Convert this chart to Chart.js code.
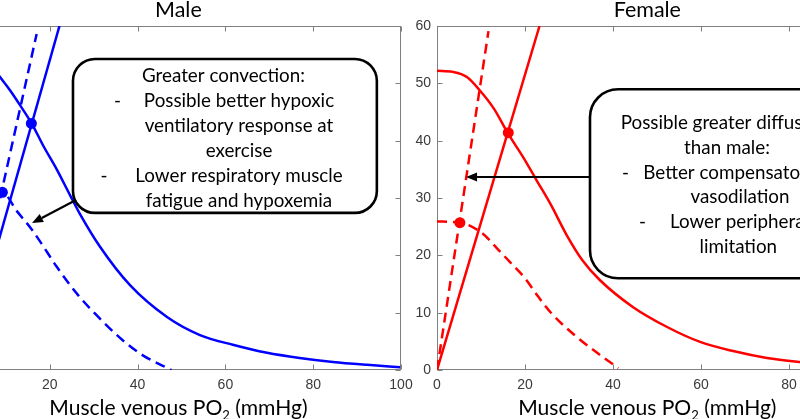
<!DOCTYPE html>
<html>
<head>
<meta charset="utf-8">
<script src="https://cdn.jsdelivr.net/npm/chart.js@4.4.0/dist/chart.umd.min.js"></script>
<style>
  html, body { margin: 0; padding: 0; background: #fff; }
  #wrap { position: relative; width: 800px; height: 419px; overflow: hidden; background: #fff; }
  #wrap canvas { position: absolute; top: 0; }
  #male { left: -100px; }
  #female { left: 377px; }
</style>
</head>
<body>
<div id="wrap">
  <canvas id="male" width="520" height="419"></canvas>
  <canvas id="female" width="520" height="419"></canvas>
</div>
<script>
// axes
const xTicks = [0, 20, 40, 60, 80, 100];
const yTicks = [0, 10, 20, 30, 40, 50, 60];

// male (blue)
const maleConvX = [7.5, 8.66, 10.93, 13.21, 15.95, 18.45, 21.64, 24.6, 26.88, 31.44, 38.27, 46.7, 54.2, 61.7, 69.5, 76.9, 84.5, 92.3, 99.8];
const maleConvY = [52.3, 51.1, 48.8, 46.2, 42.9, 39.2, 34.9, 30.5, 27.2, 21.5, 14.8, 9.25, 6.1, 4.4, 3.0, 2.1, 1.4, 0.9, 0.5];
const maleDiffX = [0, 22.2];
const maleDiffY = [0, 60];
const maleDiffDashX = [0, 17];
const maleDiffDashY = [0, 58.6];
const maleConvDashX = [0, 9.2, 12.4, 15.8, 18.5, 21.5, 26.4, 30.6, 36.6, 41.1, 47.7];
const maleConvDashY = [31, 31, 27.8, 24.6, 21.6, 18.1, 13.1, 9.6, 5.2, 2.6, 0];
const maleDotsX = [15.8, 9.2];
const maleDotsY = [43, 31];

// female (red)
const femConvX = [0, 3.6, 6.8, 9.8, 13.0, 16.1, 19.5, 22.7, 25.9, 29.5, 33, 37.0, 44.5, 52.3, 59.8, 67.3, 75.0, 82.5, 90, 100];
const femConvY = [52.2, 52.0, 51.1, 48.7, 45.5, 41.3, 37.2, 33.0, 28.8, 23.5, 19.2, 15.7, 11.0, 7.5, 4.9, 3.3, 2.1, 1.4, 0.9, 0.6];
const femDiffX = [0, 23.3];
const femDiffY = [0, 60];
const femDiffDashX = [0, 11.7];
const femDiffDashY = [0, 59.1];
const femConvDashX = [0, 5.2, 10.2, 13.9, 17, 20, 23, 26, 31.7, 41.2];
const femConvDashY = [25.9, 25.7, 23.9, 21, 18.5, 16, 12.8, 9.9, 5.8, 0.3];
const femDotsX = [16.2, 5.2];
const femDotsY = [41.4, 25.7];

const maleNote = ['Greater convection:', 'Possible better hypoxic', 'ventilatory response at', 'exercise',
                  'Lower respiratory muscle', 'fatigue and hypoxemia'];
const femNote = ['Possible greater diffusion', 'than male:', 'Better compensatory', 'vasodilation',
                 'Lower peripheral', 'limitation'];

const TEXT_FONT = 'Lato, "Open Sans", sans-serif';
const TICK_FONT = '"Liberation Sans", Arial, sans-serif';
const AXIS_COLOR = '#808080';

const pts = (xs, ys) => xs.map((x, i) => ({ x, y: ys[i] }));

function fitSize(ctx, text, target, base = 20) {
  ctx.font = base + 'px ' + TEXT_FONT;
  return base * target / ctx.measureText(text).width;
}

function curve(data, color, dashed, smooth) {
  return {
    data, borderColor: color, borderWidth: 2.5, pointRadius: 0, fill: false,
    borderDash: dashed ? [10, 6] : [], borderCapStyle: 'butt',
    cubicInterpolationMode: smooth ? 'monotone' : 'default', tension: 0,
  };
}

function dots(data, color) {
  return { data, showLine: false, pointRadius: 5.5, pointHoverRadius: 5.5,
           pointBackgroundColor: color, pointBorderWidth: 0, borderColor: color };
}

// inward ticks and box frame, MATLAB style
const framePlugin = {
  id: 'frame',
  beforeDatasetsDraw(chart) {
    const { ctx, chartArea: a, scales: { x, y } } = chart;
    ctx.save();
    ctx.strokeStyle = AXIS_COLOR;
    ctx.lineWidth = 1;
    const L = Math.round(a.left) + 0.5, R = Math.round(a.right) - 0.5;
    const T = Math.round(a.top) + 0.5, B = Math.round(a.bottom) - 0.5;
    ctx.strokeRect(L, T, R - L, B - T);
    ctx.beginPath();
    xTicks.forEach(v => {
      const p = Math.round(x.getPixelForValue(v)) + 0.5;
      ctx.moveTo(p, B); ctx.lineTo(p, B - 5);
      ctx.moveTo(p, T); ctx.lineTo(p, T + 5);
    });
    yTicks.forEach(v => {
      const p = Math.round(y.getPixelForValue(v)) + 0.5;
      ctx.moveTo(L, p); ctx.lineTo(L + 5, p);
      ctx.moveTo(R, p); ctx.lineTo(R - 5, p);
    });
    ctx.stroke();
    ctx.restore();
  }
};

function roundRect(ctx, x0, y0, x1, y1, r) {
  ctx.beginPath();
  ctx.moveTo(x0 + r, y0);
  ctx.lineTo(x1 - r, y0); ctx.arcTo(x1, y0, x1, y0 + r, r);
  ctx.lineTo(x1, y1 - r); ctx.arcTo(x1, y1, x1 - r, y1, r);
  ctx.lineTo(x0 + r, y1); ctx.arcTo(x0, y1, x0, y1 - r, r);
  ctx.lineTo(x0, y0 + r); ctx.arcTo(x0, y0, x0 + r, y0, r);
  ctx.closePath();
  ctx.stroke();
}

function arrow(ctx, x0, y0, x1, y1) {
  const ang = Math.atan2(y1 - y0, x1 - x0), len = 11, hw = 4.5;
  const bx = x1 - len * Math.cos(ang), by = y1 - len * Math.sin(ang);
  ctx.beginPath(); ctx.moveTo(x0, y0); ctx.lineTo(bx, by); ctx.stroke();
  ctx.beginPath();
  ctx.moveTo(x1, y1);
  ctx.lineTo(bx + hw * Math.sin(ang), by - hw * Math.cos(ang));
  ctx.lineTo(bx - hw * Math.sin(ang), by + hw * Math.cos(ang));
  ctx.closePath(); ctx.fill();
}

const notesPlugin = {
  id: 'notes',
  afterDatasetsDraw(chart, args, o) {
    const { ctx, scales: { x, y } } = chart;
    const X = v => x.getPixelForValue(v), Y = v => y.getPixelForValue(v);
    ctx.save();
    ctx.fillStyle = '#000';
    ctx.strokeStyle = '#000';

    // panel title
    const tSize = fitSize(ctx, 'Male', 46.7);
    ctx.font = tSize + 'px ' + TEXT_FONT;
    ctx.textAlign = 'center'; ctx.textBaseline = 'alphabetic';
    ctx.fillText(o.title, X(o.titleX), 17);

    // x axis title with subscript
    const xs = fitSize(ctx, 'Muscle venous PO2 (mmHg)', 263, 24);
    ctx.font = xs + 'px ' + TEXT_FONT;
    const a = 'Muscle venous PO', c = ' (mmHg)';
    const wa = ctx.measureText(a).width, wc = ctx.measureText(c).width;
    ctx.font = (xs * 0.62) + 'px ' + TEXT_FONT;
    const wb = ctx.measureText('2').width;
    let sx = X(o.titleX) - (wa + wb + wc) / 2;
    ctx.textAlign = 'left';
    ctx.font = xs + 'px ' + TEXT_FONT;
    ctx.fillText(a, sx, 415);
    ctx.font = (xs * 0.62) + 'px ' + TEXT_FONT;
    ctx.fillText('2', sx + wa, 420);
    ctx.font = xs + 'px ' + TEXT_FONT;
    ctx.fillText(c, sx + wa + wb, 415);

    // rounded note box
    ctx.lineWidth = 2.6;
    const bx0 = X(o.box[0]), by0 = Y(o.box[1]), bx1 = X(o.box[2]), by1 = Y(o.box[3]);
    roundRect(ctx, bx0, by0, bx1, by1, o.radius);

    // arrow
    ctx.lineWidth = 2.2;
    arrow(ctx, X(o.arrow[0]), Y(o.arrow[1]), X(o.arrow[2]), Y(o.arrow[3]));

    // note text
    const fs = fitSize(ctx, 'Greater convection:', 163);
    ctx.font = fs + 'px ' + TEXT_FONT;
    ctx.textBaseline = 'middle';
    o.lines.forEach((ln, i) => {
      const ty = by0 + o.firstLine + i * o.step;
      ctx.textAlign = ln.align;
      ctx.fillText(ln.text, bx0 + ln.dx, ty);
      if (ln.dash != null) { ctx.textAlign = 'center'; ctx.fillText('-', bx0 + ln.dash, ty); }
    });
    ctx.restore();
  }
};

function makeChart(id, datasets, yWidth, padRight, notes) {
  return new Chart(document.getElementById(id), {
    type: 'line',
    data: { datasets },
    options: {
      responsive: false, animation: false, devicePixelRatio: 1,
      layout: { padding: { top: 26, right: padRight, bottom: 0, left: 0 } },
      plugins: { legend: { display: false }, tooltip: { enabled: false }, title: { display: false }, notes },
      scales: {
        x: {
          type: 'linear', min: 0, max: 100,
          afterBuildTicks: s => { s.ticks = xTicks.map(v => ({ value: v })); },
          afterFit: s => { s.height = 49; },
          grid: { display: false, drawTicks: false }, border: { display: false },
          ticks: { padding: 7, maxRotation: 0, autoSkip: false, color: '#3a3a3a', font: { family: TICK_FONT, size: 14 } },
        },
        y: {
          min: 0, max: 60,
          afterBuildTicks: s => { s.ticks = yTicks.map(v => ({ value: v })); },
          afterFit: s => { s.width = yWidth; },
          grid: { display: false, drawTicks: false }, border: { display: false },
          ticks: { padding: 6, color: '#3a3a3a', font: { family: TICK_FONT, size: 14 } },
        },
      },
    },
    plugins: [framePlugin, notesPlugin],
  });
}

const BLUE = '#0000ff', RED = '#ff0000';

makeChart('male', [
  curve(pts(maleConvX, maleConvY), BLUE, false, true),
  curve(pts(maleDiffX, maleDiffY), BLUE, false, false),
  curve(pts(maleDiffDashX, maleDiffDashY), BLUE, true, false),
  curve(pts(maleConvDashX, maleConvDashY), BLUE, true, true),
  dots(pts(maleDotsX, maleDotsY), BLUE),
], 62, 19, {
  title: 'Male', titleX: 49.3,
  box: [25.28, 54.25, 94.5, 27.4], radius: 22,
  arrow: [25.97, 29.65, 15.95, 25.64],
  firstLine: 16.5, step: 25,
  lines: [
    { text: maleNote[0], align: 'center', dx: 150.5 },
    { text: maleNote[1], align: 'center', dx: 166, dash: 44.5 },
    { text: maleNote[2], align: 'center', dx: 166 },
    { text: maleNote[3], align: 'center', dx: 166 },
    { text: maleNote[4], align: 'center', dx: 166, dash: 31 },
    { text: maleNote[5], align: 'center', dx: 166 },
  ],
});

makeChart('female', [
  curve(pts(femConvX, femConvY), RED, false, true),
  curve(pts(femDiffX, femDiffY), RED, false, false),
  curve(pts(femDiffDashX, femDiffDashY), RED, true, false),
  curve(pts(femConvDashX, femConvDashY), RED, true, true),
  dots(pts(femDotsX, femDotsY), RED),
], 60, 20, {
  title: 'Female', titleX: 47.8,
  box: [34.77, 48.96, 97.05, 16.0], radius: 28,
  arrow: [34.77, 33.66, 6.6, 33.66],
  firstLine: 34, step: 24.7,
  lines: [
    { text: femNote[0], align: 'left', dx: 30.7 },
    { text: femNote[1], align: 'center', dx: 137 },
    { text: femNote[2], align: 'left', dx: 53.3, dash: 35.5 },
    { text: femNote[3], align: 'center', dx: 150 },
    { text: femNote[4], align: 'left', dx: 80, dash: 52.5 },
    { text: femNote[5], align: 'center', dx: 148.3 },
  ],
});
</script>
</body>
</html>
